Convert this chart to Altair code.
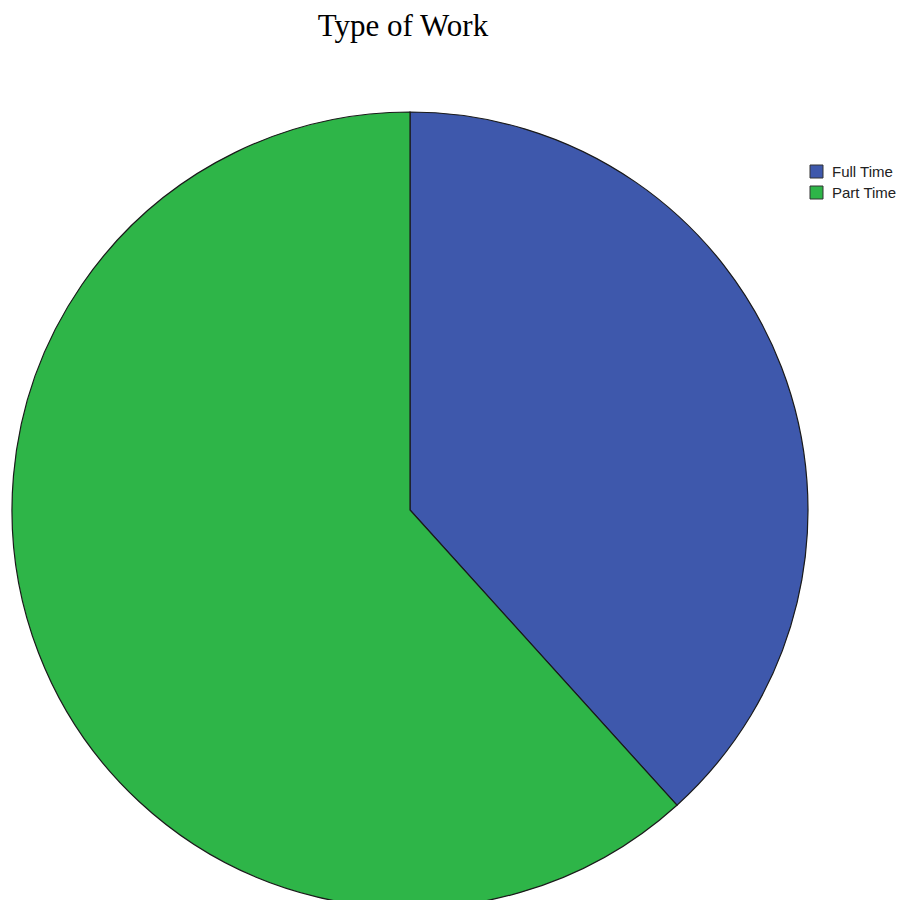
import altair as alt
import pandas as pd

categories = ["Full Time", "Part Time"]
values = [38.3, 61.7]
order = [1, 2]
colors = ["#3E58AC", "#2EB548"]

df = pd.DataFrame({"Type": categories, "Value": values, "Order": order})

pie = alt.Chart(df).mark_arc(
    stroke="#1a1a1a", strokeWidth=1.2, radius=398
).encode(
    theta=alt.Theta("Value:Q", stack=True),
    order=alt.Order("Order:Q"),
    color=alt.Color(
        "Type:N",
        scale=alt.Scale(domain=categories, range=colors),
        legend=alt.Legend(
            orient="none", legendX=801, legendY=156, title=None,
            symbolType="square", symbolSize=169, symbolStrokeColor="#333",
            symbolStrokeWidth=1, labelFont="Liberation Sans", labelFontSize=15,
            labelColor="#222", padding=0, rowPadding=4, labelOffset=8,
        ),
    ),
    x=alt.value(402),
    y=alt.value(502),
)

title = alt.Chart(pd.DataFrame({"t": ["Type of Work"]})).mark_text(
    font="Liberation Serif", fontSize=31, color="#000", baseline="alphabetic",
    align="center"
).encode(text="t:N", x=alt.value(395), y=alt.value(28))

chart = alt.layer(pie, title).properties(
    width=893, height=892, padding=0,
    autosize=alt.AutoSizeParams(type="none")
).configure_view(stroke=None)

chart.save("out.html", embed_options={"renderer": "svg", "actions": False})
